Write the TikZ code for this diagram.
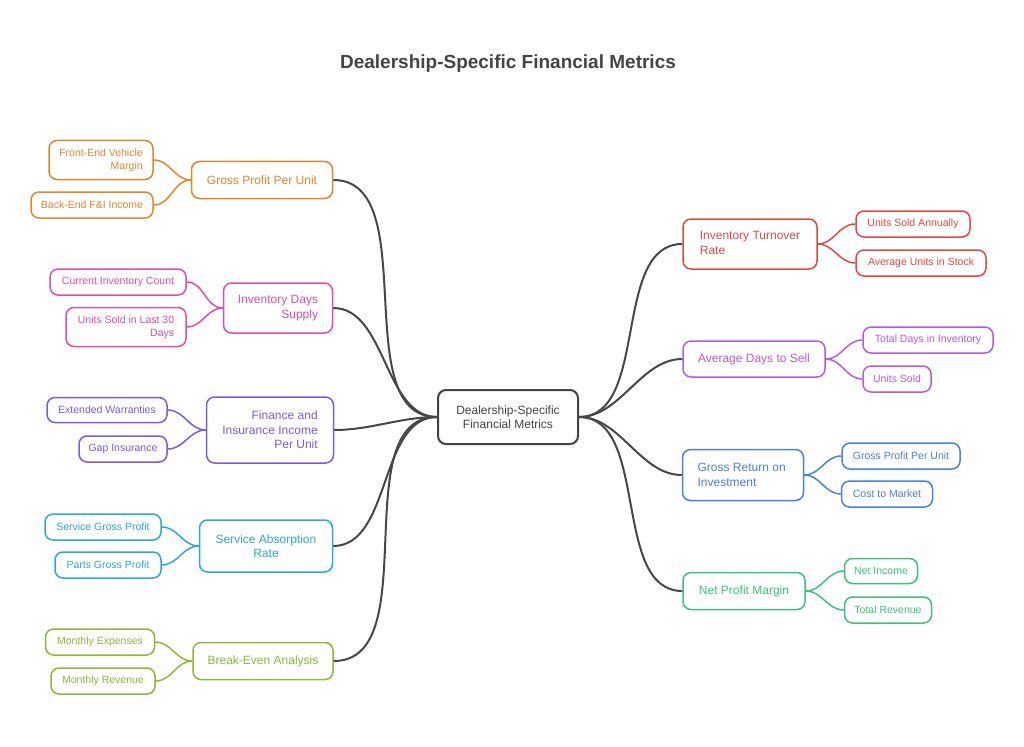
\documentclass[tikz,border=0pt]{standalone}
\usepackage{fontspec}
\setmainfont{Liberation Sans}
\begin{document}
\begin{tikzpicture}[x=1pt,y=-1pt,
 box/.style={draw=#1,text=#1,fill=white,line width=1.5pt,rounded corners=8pt,inner sep=2pt,font=\fontsize{12}{14.5}\selectfont},
 leaf/.style={draw=#1,text=#1,fill=white,line width=1.5pt,rounded corners=8pt,inner sep=2pt,font=\fontsize{10.5}{13}\selectfont},
 con/.style={draw=#1,line width=1.5pt},
 main/.style={draw=black!72,line width=2pt}]
\useasboundingbox (0,0) rectangle (1024,746);
\definecolor{cO}{HTML}{E0872E}\definecolor{cP}{HTML}{DE4FA8}\definecolor{cU}{HTML}{7B5CE0}
\definecolor{cC}{HTML}{2BA8D8}\definecolor{cY}{HTML}{8DB83A}\definecolor{cR}{HTML}{E04848}
\definecolor{cV}{HTML}{B65BE0}\definecolor{cB}{HTML}{4A80E0}\definecolor{cG}{HTML}{3CC27E}
\definecolor{dk}{HTML}{444444}
\node[text=dk,font=\bfseries\fontsize{19}{22}\selectfont] (title) at (508,64) {Dealership-Specific Financial Metrics};
\node[draw=dk,text=dk,line width=2pt,rounded corners=8pt,minimum width=140pt,minimum height=54pt,align=center,font=\fontsize{12}{14.5}\selectfont] (c) at (508,417) {Dealership-Specific\\Financial Metrics};
% left mains
\newcommand{\mn}[7]{\node[#1=#2,minimum width=#3pt,minimum height=#4pt,align=#7] (#5) at (#6) {};}
\node[box=cO,minimum width=141pt,minimum height=37pt] (m1) at (262,180) {Gross Profit Per Unit};
\node[box=cP,minimum width=109pt,minimum height=50pt,align=right] (m2) at (278,308) {Inventory Days\\Supply};
\node[box=cU,minimum width=127pt,minimum height=66pt,align=right] (m3) at (270,430) {Finance and\\Insurance Income\\Per Unit};
\node[box=cC,minimum width=133pt,minimum height=52pt,align=center] (m4) at (266,546) {Service Absorption\\Rate};
\node[box=cY,minimum width=140pt,minimum height=37pt] (m5) at (263,661) {Break-Even Analysis};
\node[box=cR,minimum width=134pt,minimum height=50pt,align=left] (m6) at (750,244) {Inventory Turnover\\Rate\phantom{Inventory Tu}};
\node[box=cV,minimum width=142pt,minimum height=36pt] (m7) at (754,359) {Average Days to Sell};
\node[box=cB,minimum width=121pt,minimum height=51pt,align=left] (m8) at (743,475) {Gross Return on\\Investment\phantom{Gross}};
\node[box=cG,minimum width=122pt,minimum height=37pt] (m9) at (744,591) {Net Profit Margin};
% leaves
\node[leaf=cO,minimum width=104pt,minimum height=39pt,align=right] (l1a) at (101,160) {Front-End Vehicle\\Margin};
\node[leaf=cO,minimum width=122pt,minimum height=26pt] (l1b) at (92,205) {Back-End F\&I Income};
\node[leaf=cP,minimum width=136pt,minimum height=26pt] (l2a) at (118,282) {Current Inventory Count};
\node[leaf=cP,minimum width=120pt,minimum height=39pt,align=right] (l2b) at (126,327) {Units Sold in Last 30\\Days};
\node[leaf=cU,minimum width=120pt,minimum height=25pt] (l3a) at (107,410) {Extended Warranties};
\node[leaf=cU,minimum width=88pt,minimum height=26pt] (l3b) at (123,449) {Gap Insurance};
\node[leaf=cC,minimum width=116pt,minimum height=26pt] (l4a) at (103,527) {Service Gross Profit};
\node[leaf=cC,minimum width=106pt,minimum height=26pt] (l4b) at (108,565) {Parts Gross Profit};
\node[leaf=cY,minimum width=109pt,minimum height=26pt] (l5a) at (100,642) {Monthly Expenses};
\node[leaf=cY,minimum width=104pt,minimum height=26pt] (l5b) at (103,681) {Monthly Revenue};
\node[leaf=cR,minimum width=114pt,minimum height=26pt] (l6a) at (913,224) {Units Sold Annually};
\node[leaf=cR,minimum width=130pt,minimum height=26pt] (l6b) at (921,263) {Average Units in Stock};
\node[leaf=cV,minimum width=130pt,minimum height=26pt] (l7a) at (928,340) {Total Days in Inventory};
\node[leaf=cV,minimum width=68pt,minimum height=26pt] (l7b) at (897,379) {Units Sold};
\node[leaf=cB,minimum width=118pt,minimum height=26pt] (l8a) at (901,456) {Gross Profit Per Unit};
\node[leaf=cB,minimum width=91pt,minimum height=26pt] (l8b) at (887,494) {Cost to Market};
\node[leaf=cG,minimum width=73pt,minimum height=25pt] (l9a) at (881,571) {Net Income};
\node[leaf=cG,minimum width=87pt,minimum height=26pt] (l9b) at (888,610) {Total Revenue};
% connectors
\begin{scope}[on background layer/.style={}]
\end{scope}
\foreach \m in {m1,m2,m3,m4,m5}{\draw[main] (c.west) to[out=180,in=0,looseness=0.9] (\m.east);}
\foreach \m in {m6,m7,m8,m9}{\draw[main] (c.east) to[out=0,in=180,looseness=0.9] (\m.west);}
\foreach \m/\a/\b/\k in {m1/l1a/l1b/cO,m2/l2a/l2b/cP,m3/l3a/l3b/cU,m4/l4a/l4b/cC,m5/l5a/l5b/cY}{
 \draw[con=\k] (\m.west) to[out=180,in=0] (\a.east);
 \draw[con=\k] (\m.west) to[out=180,in=0] (\b.east);}
\foreach \m/\a/\b/\k in {m6/l6a/l6b/cR,m7/l7a/l7b/cV,m8/l8a/l8b/cB,m9/l9a/l9b/cG}{
 \draw[con=\k] (\m.east) to[out=0,in=180] (\a.west);
 \draw[con=\k] (\m.east) to[out=0,in=180] (\b.west);}
\end{tikzpicture}
\end{document}
